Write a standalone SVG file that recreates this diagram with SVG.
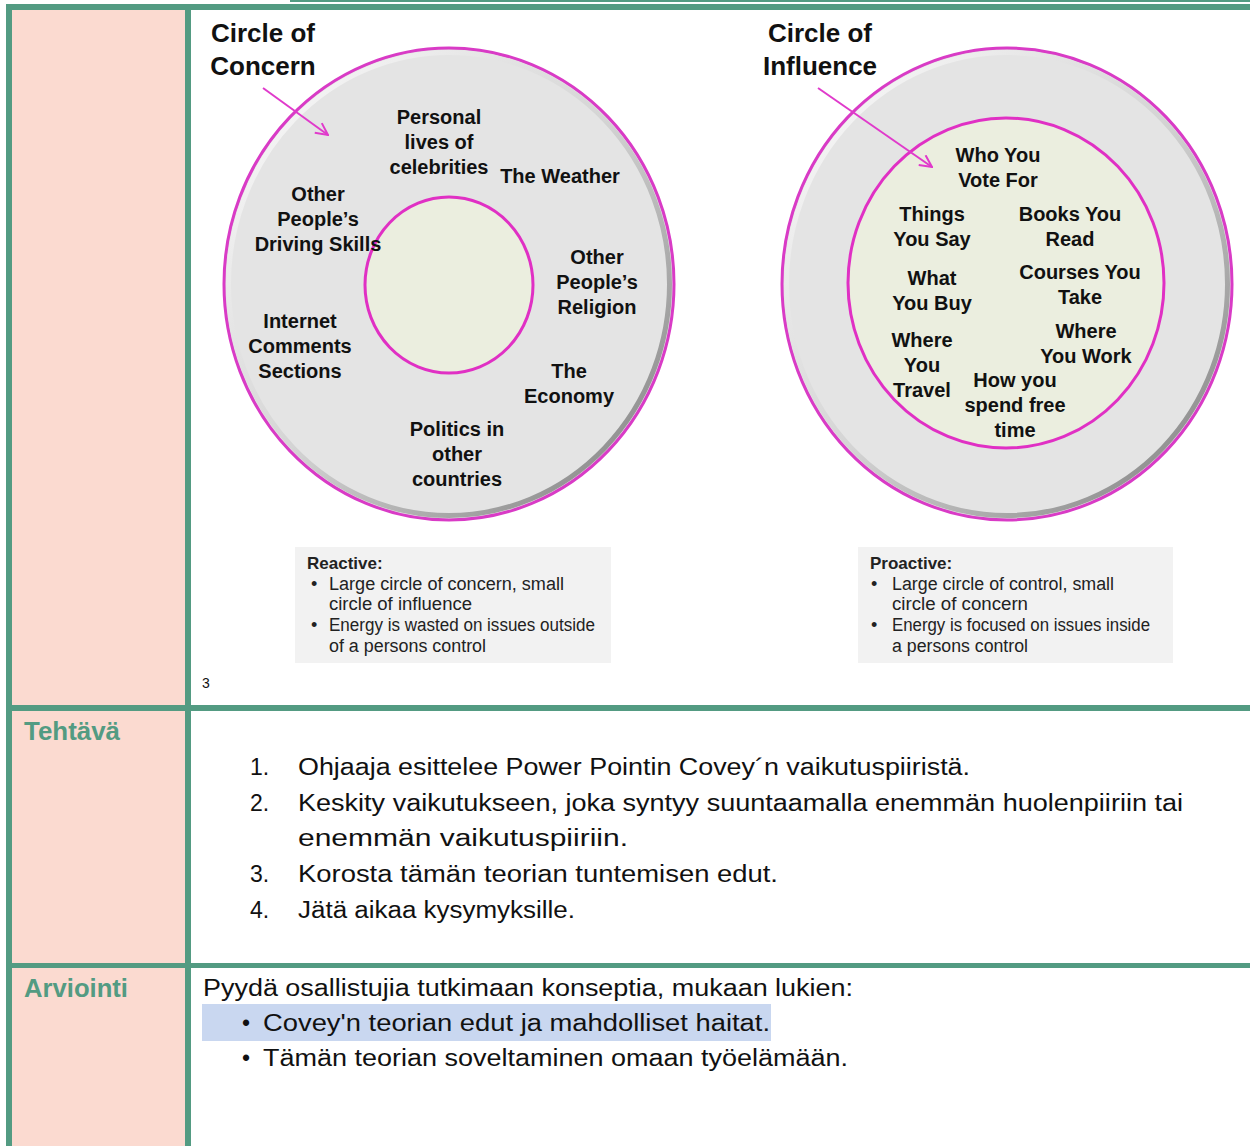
<svg xmlns="http://www.w3.org/2000/svg" width="1250" height="1146" viewBox="0 0 1250 1146">
<style>
.grn{fill:#539B82}
.pink{fill:#FBDAD0}
.ct{font-family:"Liberation Sans",Arial,sans-serif;font-weight:bold;font-size:20px;fill:#111;text-anchor:middle}
.ttl{font-family:"Liberation Sans",Arial,sans-serif;font-weight:bold;font-size:26px;fill:#111}
.bx{font-family:"Liberation Sans",Arial,sans-serif;font-size:18px;fill:#222}
.bxb{font-family:"Liberation Sans",Arial,sans-serif;font-size:17px;font-weight:bold;fill:#222}
.lbl{font-family:"Liberation Sans",Arial,sans-serif;font-weight:bold;font-size:25px;fill:#539B82}
.tx{font-family:"Liberation Sans",Arial,sans-serif;font-size:23px;fill:#111}
.ring{fill:#E4E4E4;stroke:#D93BC6;stroke-width:3}
.bev{fill:none;stroke:url(#bevel);stroke-width:5}
.inner{stroke:#E030C4;stroke-width:3}
.arr{stroke:#E03ACB;stroke-width:2;fill:none}
</style>
<defs>
<linearGradient id="bevel" x1="0" y1="0" x2="1" y2="1">
<stop offset="0" stop-color="#ffffff"/>
<stop offset="0.5" stop-color="#d4d4d4"/>
<stop offset="1" stop-color="#7a7a7a"/>
</linearGradient>
<marker id="ah" viewBox="0 0 14 14" refX="13" refY="7" markerWidth="14" markerHeight="14" markerUnits="userSpaceOnUse" orient="auto">
<path d="M1,1 L13,7 L1,13" fill="none" stroke="#E03ACB" stroke-width="2"/>
</marker>
</defs>
<rect width="1250" height="1146" fill="#ffffff"/>
<g id="table">
<rect class="pink" x="12" y="10" width="173" height="695"/>
<rect class="pink" x="12" y="711" width="173" height="252"/>
<rect class="pink" x="12" y="968" width="173" height="178"/>
<rect class="grn" x="290" y="0" width="960" height="2"/>
<rect class="grn" x="6" y="4" width="1244" height="6"/>
<rect class="grn" x="6" y="4" width="6" height="1142"/>
<rect class="grn" x="185" y="4" width="6" height="1142"/>
<rect class="grn" x="6" y="705" width="1244" height="6"/>
<rect class="grn" x="6" y="963" width="1244" height="5"/>
</g>
<g id="circle-of-concern">
<ellipse class="ring" cx="449" cy="284" rx="225" ry="236"/>
<ellipse class="bev" cx="449" cy="284" rx="220.5" ry="231.5"/>
<ellipse class="inner" cx="449" cy="285" rx="84" ry="88" fill="#EBEEDF"/>
<text class="ttl" x="263" y="42" text-anchor="middle">Circle of</text>
<text class="ttl" x="263" y="75" text-anchor="middle">Concern</text>
<text class="ct" x="439" y="124">Personal</text>
<text class="ct" x="439" y="149">lives of</text>
<text class="ct" x="439" y="174">celebrities</text>
<text class="ct" x="560" y="183">The Weather</text>
<text class="ct" x="318" y="201">Other</text>
<text class="ct" x="318" y="226">People’s</text>
<text class="ct" x="318" y="251">Driving Skills</text>
<text class="ct" x="597" y="264">Other</text>
<text class="ct" x="597" y="289">People’s</text>
<text class="ct" x="597" y="314">Religion</text>
<text class="ct" x="300" y="328">Internet</text>
<text class="ct" x="300" y="353">Comments</text>
<text class="ct" x="300" y="378">Sections</text>
<text class="ct" x="569" y="378">The</text>
<text class="ct" x="569" y="403">Economy</text>
<text class="ct" x="457" y="436">Politics in</text>
<text class="ct" x="457" y="461">other</text>
<text class="ct" x="457" y="486">countries</text>
</g>
<g id="circle-of-influence">
<ellipse class="ring" cx="1007" cy="284" rx="225" ry="236"/>
<ellipse class="bev" cx="1007" cy="284" rx="220.5" ry="231.5"/>
<ellipse class="inner" cx="1006" cy="283" rx="158" ry="165" fill="#EBEEDF"/>
<text class="ttl" x="820" y="42" text-anchor="middle">Circle of</text>
<text class="ttl" x="820" y="75" text-anchor="middle">Influence</text>
<text class="ct" x="998" y="162">Who You</text>
<text class="ct" x="998" y="187">Vote For</text>
<text class="ct" x="932" y="221">Things</text>
<text class="ct" x="932" y="246">You Say</text>
<text class="ct" x="1070" y="221">Books You</text>
<text class="ct" x="1070" y="246">Read</text>
<text class="ct" x="932" y="285">What</text>
<text class="ct" x="932" y="310">You Buy</text>
<text class="ct" x="1080" y="279">Courses You</text>
<text class="ct" x="1080" y="304">Take</text>
<text class="ct" x="1086" y="338">Where</text>
<text class="ct" x="1086" y="363">You Work</text>
<text class="ct" x="922" y="347">Where</text>
<text class="ct" x="922" y="372">You</text>
<text class="ct" x="922" y="397">Travel</text>
<text class="ct" x="1015" y="387">How you</text>
<text class="ct" x="1015" y="412">spend free</text>
<text class="ct" x="1015" y="437">time</text>
</g>
<g id="connectors">
<line class="arr" x1="263" y1="88" x2="328" y2="135" marker-end="url(#ah)"/>
<line class="arr" x1="818" y1="88" x2="932" y2="167" marker-end="url(#ah)"/>
</g>
<g id="reactive-box">
<rect x="295" y="547" width="316" height="116" fill="#F2F2F2"/>
<text class="bxb" x="307" y="569">Reactive:</text>
<text class="bx" x="311" y="590">•</text>
<text class="bx" x="329" y="590" textLength="235" lengthAdjust="spacingAndGlyphs">Large circle of concern, small</text>
<text class="bx" x="329" y="610" textLength="143" lengthAdjust="spacingAndGlyphs">circle of influence</text>
<text class="bx" x="311" y="631">•</text>
<text class="bx" x="329" y="631" textLength="266" lengthAdjust="spacingAndGlyphs">Energy is wasted on issues outside</text>
<text class="bx" x="329" y="652" textLength="157" lengthAdjust="spacingAndGlyphs">of a persons control</text>
</g>
<g id="proactive-box">
<rect x="858" y="547" width="315" height="116" fill="#F2F2F2"/>
<text class="bxb" x="870" y="569">Proactive:</text>
<text class="bx" x="871" y="590">•</text>
<text class="bx" x="892" y="590" textLength="222" lengthAdjust="spacingAndGlyphs">Large circle of control, small</text>
<text class="bx" x="892" y="610" textLength="136" lengthAdjust="spacingAndGlyphs">circle of concern</text>
<text class="bx" x="871" y="631">•</text>
<text class="bx" x="892" y="631" textLength="258" lengthAdjust="spacingAndGlyphs">Energy is focused on issues inside</text>
<text class="bx" x="892" y="652" textLength="136" lengthAdjust="spacingAndGlyphs">a persons control</text>
</g>
<text x="202" y="688" font-family="Liberation Sans, Arial, sans-serif" font-size="14" fill="#111">3</text>
<g id="tehtava">
<text class="lbl" x="24" y="740" textLength="96" lengthAdjust="spacingAndGlyphs">Tehtävä</text>
<text class="tx" x="250" y="775">1.</text>
<text class="tx" x="298" y="775" textLength="672" lengthAdjust="spacingAndGlyphs">Ohjaaja esittelee Power Pointin Covey´n vaikutuspiiristä.</text>
<text class="tx" x="250" y="811">2.</text>
<text class="tx" x="298" y="811" textLength="885" lengthAdjust="spacingAndGlyphs">Keskity vaikutukseen, joka syntyy suuntaamalla enemmän huolenpiiriin tai</text>
<text class="tx" x="298" y="846" textLength="330" lengthAdjust="spacingAndGlyphs">enemmän vaikutuspiiriin.</text>
<text class="tx" x="250" y="882">3.</text>
<text class="tx" x="298" y="882" textLength="480" lengthAdjust="spacingAndGlyphs">Korosta tämän teorian tuntemisen edut.</text>
<text class="tx" x="250" y="918">4.</text>
<text class="tx" x="298" y="918" textLength="277" lengthAdjust="spacingAndGlyphs">Jätä aikaa kysymyksille.</text>
</g>
<g id="arviointi">
<text class="lbl" x="24" y="997" textLength="104" lengthAdjust="spacingAndGlyphs">Arviointi</text>
<rect x="202" y="1004" width="569" height="37" fill="#C9D7F0"/>
<text class="tx" x="203" y="996" textLength="650" lengthAdjust="spacingAndGlyphs">Pyydä osallistujia tutkimaan konseptia, mukaan lukien:</text>
<text class="tx" x="242" y="1031" font-size="26">•</text>
<text class="tx" x="263" y="1031" textLength="507" lengthAdjust="spacingAndGlyphs">Covey'n teorian edut ja mahdolliset haitat.</text>
<text class="tx" x="242" y="1066" font-size="26">•</text>
<text class="tx" x="263" y="1066" textLength="585" lengthAdjust="spacingAndGlyphs">Tämän teorian soveltaminen omaan työelämään.</text>
</g>
</svg>
